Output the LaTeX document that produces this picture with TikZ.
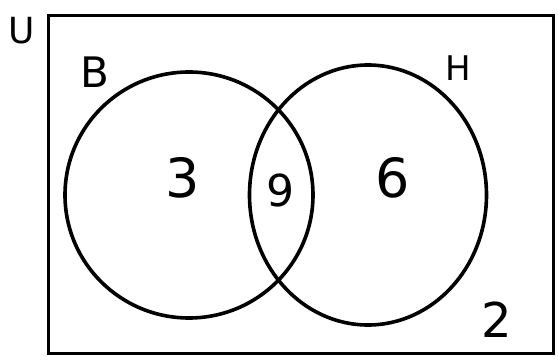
\documentclass[tikz,border=0pt]{standalone}
\usepackage{fontspec}
\setsansfont{DejaVu Sans}
\usetikzlibrary{shapes.geometric}
\begin{document}
\begin{tikzpicture}[x=1pt,y=-1pt,
  ink/.style={draw=black, line width=3.6pt},
  lbl/.style={font=\sffamily\fontsize{#1}{#1}\selectfont, inner sep=0pt}]
\useasboundingbox (0,0) rectangle (558,361);
\node[ink, rectangle, minimum width=505pt, minimum height=338pt, anchor=north west, line width=3.2pt] (U) at (47,14) {};
\node[ink, ellipse, minimum width=248pt, minimum height=246pt] (B) at (189,195) {};
\node[ink, ellipse, minimum width=237pt, minimum height=260pt] (H) at (368,195) {};
\node[lbl=36] (uL) at (22,31) {U};
\node[lbl=42] (bL) at (95,72) {B};
\node[lbl=34] (hL) at (458,68) {H};
\node[lbl=54] (n3) at (183,178) {3};
\node[lbl=44] (n9) at (280,190) {9};
\node[lbl=54] (n6) at (393,178) {6};
\node[lbl=48] (n2) at (497,320) {2};
\end{tikzpicture}
\end{document}
